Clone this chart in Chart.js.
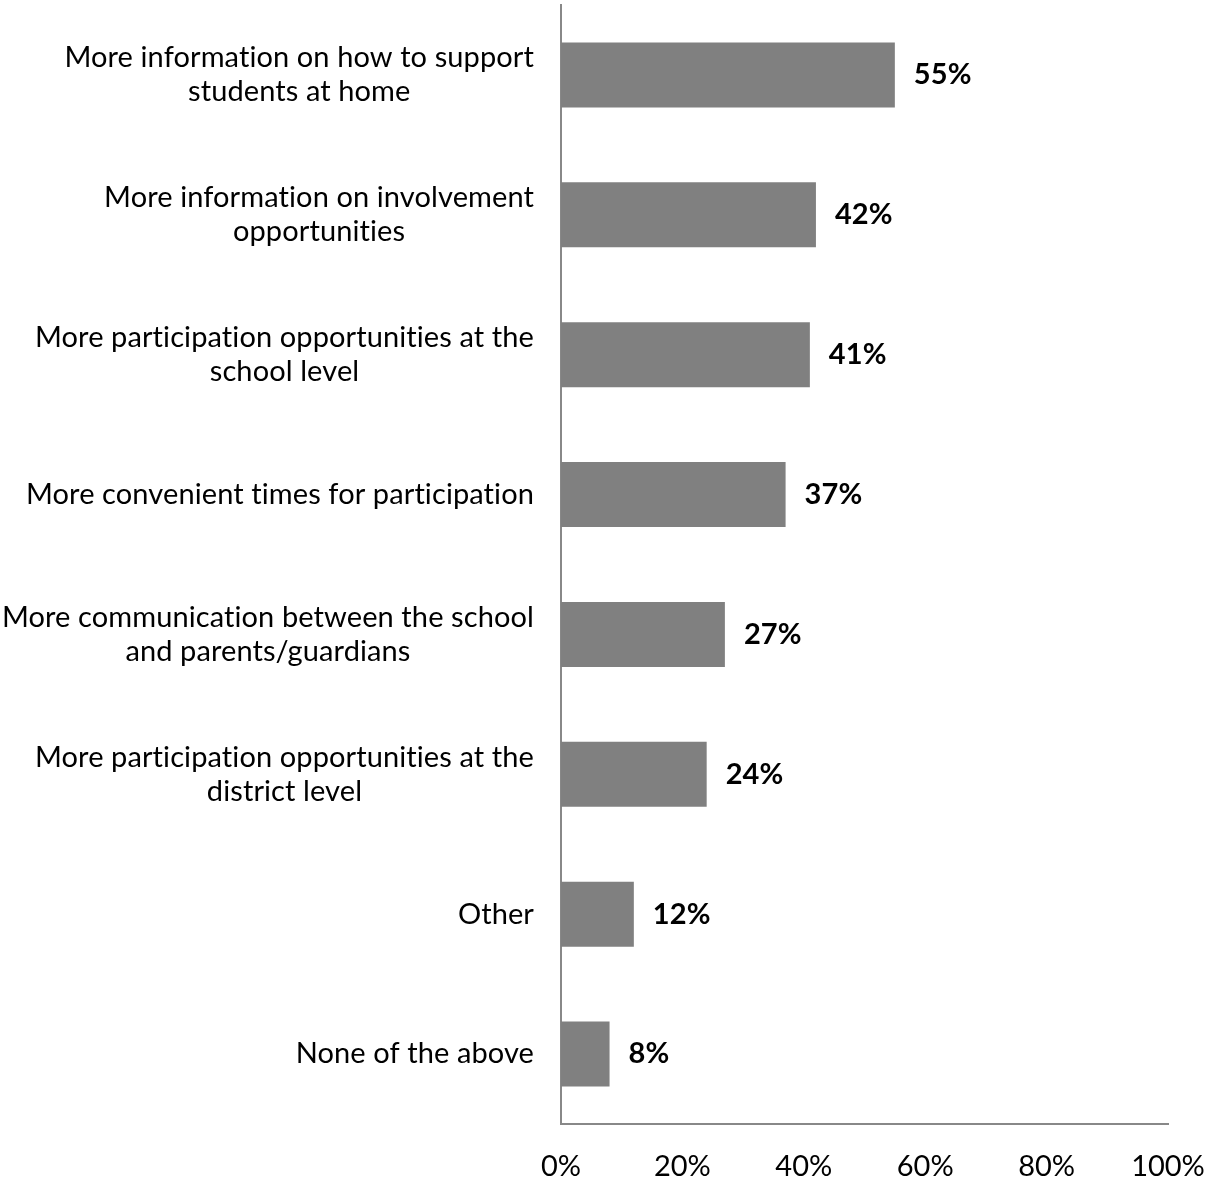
<!DOCTYPE html>
<html>
<head>
<meta charset="utf-8">
<script src="https://cdn.jsdelivr.net/npm/chart.js@4"></script>
<style>
html,body{margin:0;padding:0;background:#fff;}
#wrap{width:1217px;height:1179px;position:relative;}
</style>
</head>
<body>
<div id="wrap"><canvas id="c" width="1217" height="1179"></canvas></div>
<script>
const categories = [
  ["More information on how to support", "students at home"],
  ["More information on involvement", "opportunities"],
  ["More participation opportunities at the", "school level"],
  ["More convenient times for participation"],
  ["More communication between the school", "and parents/guardians"],
  ["More participation opportunities at the", "district level"],
  ["Other"],
  ["None of the above"]
];
const values = [55, 42, 41, 37, 27, 24, 12, 8];
const xTicks = [0, 20, 40, 60, 80, 100];

const FONT = "Lato, 'Open Sans', sans-serif";

const labelPlugin = {
  id: 'customLabels',
  afterDraw(chart) {
    const ctx = chart.ctx;
    const yScale = chart.scales.y;
    const xScale = chart.scales.x;
    const meta = chart.getDatasetMeta(0);
    ctx.save();
    ctx.font = "29px " + FONT;
    if ('letterSpacing' in ctx) ctx.letterSpacing = '0.1px';
    ctx.fillStyle = "#000";
    ctx.textBaseline = "middle";
    ctx.textAlign = "center";
    const rightEdge = chart.chartArea.left - 27;
    const lh = 34;
    categories.forEach((lines, i) => {
      const yc = yScale.getPixelForValue(i);
      const maxW = Math.max(...lines.map(l => ctx.measureText(l).width));
      const cx = rightEdge - maxW / 2;
      const y0 = yc - (lines.length - 1) * lh / 2;
      lines.forEach((l, j) => ctx.fillText(l, cx, y0 + j * lh));
    });
    ctx.font = "bold 29px " + FONT;
    ctx.textAlign = "left";
    meta.data.forEach((bar, i) => {
      const x = xScale.getPixelForValue(values[i]) + 19;
      ctx.fillText(values[i] + "%", x, bar.y);
    });
    ctx.restore();
  }
};

new Chart(document.getElementById('c'), {
  type: 'bar',
  data: {
    labels: categories.map(c => c.join(' ')),
    datasets: [{
      data: values,
      backgroundColor: '#808080',
      borderWidth: 0,
      categoryPercentage: 1,
      barPercentage: 0.465
    }]
  },
  options: {
    indexAxis: 'y',
    responsive: false,
    animation: false,
    layout: { padding: { top: 5, right: 49, left: 0, bottom: 0 } },
    plugins: { legend: { display: false }, tooltip: { enabled: false } },
    scales: {
      x: {
        min: 0, max: 100,
        afterBuildTicks: (s) => { s.ticks = xTicks.map(v => ({ value: v })); },
        afterFit: (s) => { s.height = 55; s.paddingRight = 0; s.paddingLeft = 0; },
        grid: { display: false, drawTicks: false },
        border: { display: true, color: '#888888', width: 2 },
        ticks: {
          padding: 25,
          color: '#000',
          font: { family: FONT, size: 29 },
          maxRotation: 0,
          callback: (v) => v + '%'
        }
      },
      y: {
        grid: { display: false, drawTicks: false },
        border: { display: true, color: '#888888', width: 2 },
        ticks: { display: false },
        afterFit: (s) => { s.width = 561; s.paddingTop = 0; s.paddingBottom = 0; }
      }
    }
  },
  plugins: [labelPlugin]
});
</script>
</body>
</html>
